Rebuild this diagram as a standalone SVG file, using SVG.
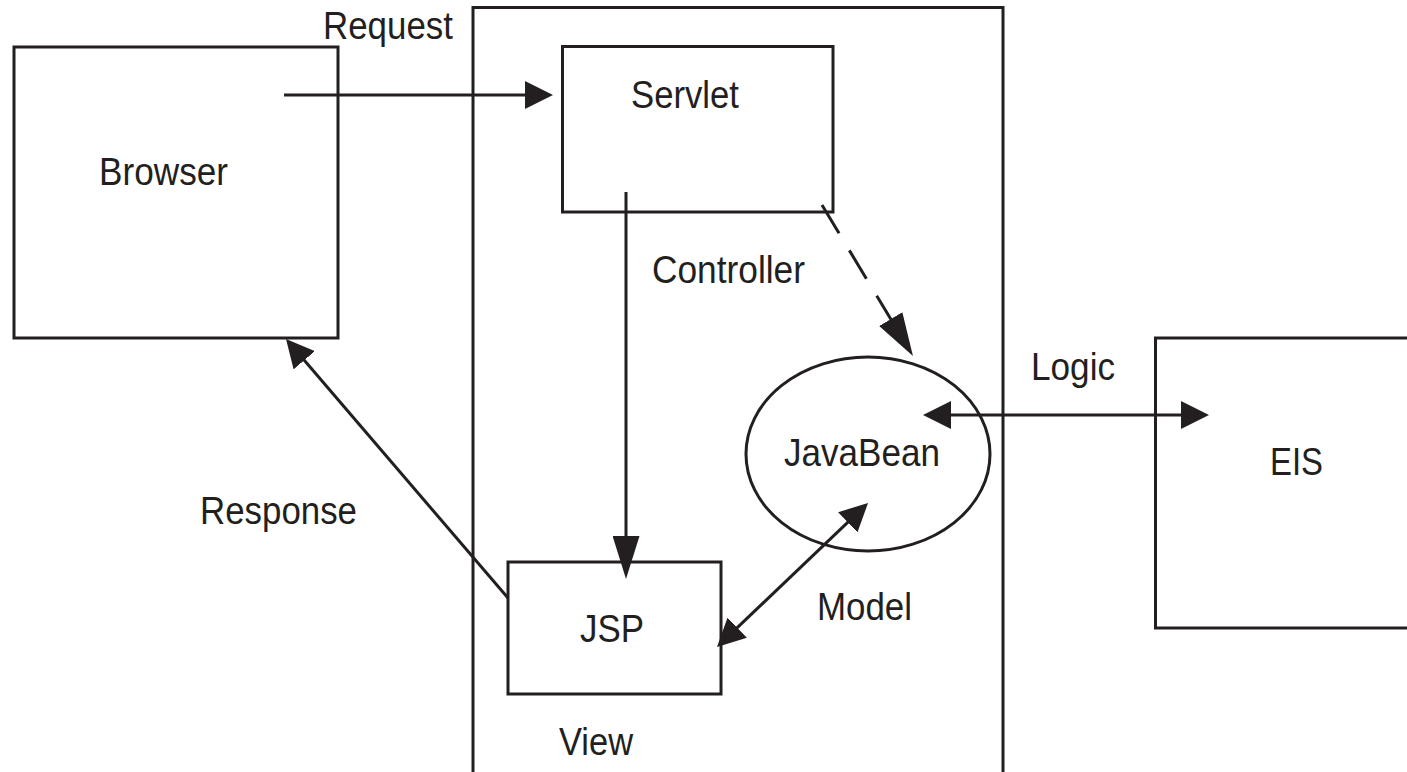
<svg xmlns="http://www.w3.org/2000/svg" width="1407" height="772" viewBox="0 0 1407 772">
  <style>
    .box { fill: none; stroke: #231f20; stroke-width: 3; }
    .conn { fill: none; stroke: #231f20; stroke-width: 3; }
    .lbl { font-family: "Liberation Sans", Arial, sans-serif; font-size: 39px; fill: #231f20; }
  </style>
  <defs>
    <marker id="ah" markerUnits="userSpaceOnUse" markerWidth="28" markerHeight="28" refX="18" refY="14" orient="auto-start-reverse" viewBox="0 0 28 28">
      <path d="M0,0 L28,14 L0,28 z" fill="#231f20"/>
    </marker>
    <marker id="ahl" markerUnits="userSpaceOnUse" markerWidth="43" markerHeight="27" refX="33" refY="13.5" orient="auto" viewBox="0 0 43 27">
      <path d="M0,0 L43,13.5 L0,27 z" fill="#231f20"/>
    </marker>
  </defs>
  <rect width="1407" height="772" fill="#ffffff"/>

  <g id="container">
    <path class="box" d="M473,790 V7.5 H1003 V790"/>
  </g>

  <g id="browser">
    <rect class="box" x="14" y="47" width="324" height="291"/>
    <text class="lbl" x="99" y="185" textLength="129" lengthAdjust="spacingAndGlyphs">Browser</text>
  </g>

  <g id="servlet">
    <rect class="box" x="562.5" y="46.5" width="270.5" height="165.5"/>
    <text class="lbl" x="631" y="108" textLength="108" lengthAdjust="spacingAndGlyphs">Servlet</text>
  </g>

  <g id="javabean">
    <ellipse class="box" cx="868" cy="454" rx="122" ry="97"/>
    <text class="lbl" x="784" y="466" textLength="156" lengthAdjust="spacingAndGlyphs">JavaBean</text>
  </g>

  <g id="jsp">
    <rect class="box" x="508" y="562" width="213" height="132"/>
    <text class="lbl" x="580" y="642" textLength="64" lengthAdjust="spacingAndGlyphs">JSP</text>
  </g>

  <g id="eis">
    <rect class="box" x="1155.5" y="338" width="300" height="290"/>
    <text class="lbl" x="1270" y="475" textLength="53" lengthAdjust="spacingAndGlyphs">EIS</text>
  </g>

  <g id="connectors">
    <line class="conn" x1="284" y1="95" x2="543" y2="95" marker-end="url(#ah)"/>
    <line class="conn" x1="626" y1="192" x2="626" y2="569" marker-end="url(#ahl)"/>
    <line class="conn" x1="822" y1="205" x2="907.8" y2="347.4" stroke-dasharray="33 20" marker-end="url(#ahl)"/>
    <line class="conn" x1="933" y1="415" x2="1199" y2="415" marker-start="url(#ah)" marker-end="url(#ah)"/>
    <line class="conn" x1="724.2" y1="640.1" x2="860.8" y2="509.9" marker-start="url(#ah)" marker-end="url(#ah)"/>
    <line class="conn" x1="508" y1="598" x2="292.5" y2="346.6" marker-end="url(#ah)"/>
  </g>

  <g id="labels">
    <text class="lbl" x="323" y="39" textLength="130" lengthAdjust="spacingAndGlyphs">Request</text>
    <text class="lbl" x="652" y="283" textLength="153" lengthAdjust="spacingAndGlyphs">Controller</text>
    <text class="lbl" x="1031" y="380" textLength="84" lengthAdjust="spacingAndGlyphs">Logic</text>
    <text class="lbl" x="200" y="524" textLength="157" lengthAdjust="spacingAndGlyphs">Response</text>
    <text class="lbl" x="817" y="620" textLength="95" lengthAdjust="spacingAndGlyphs">Model</text>
    <text class="lbl" x="559" y="755" textLength="74" lengthAdjust="spacingAndGlyphs">View</text>
  </g>
</svg>
